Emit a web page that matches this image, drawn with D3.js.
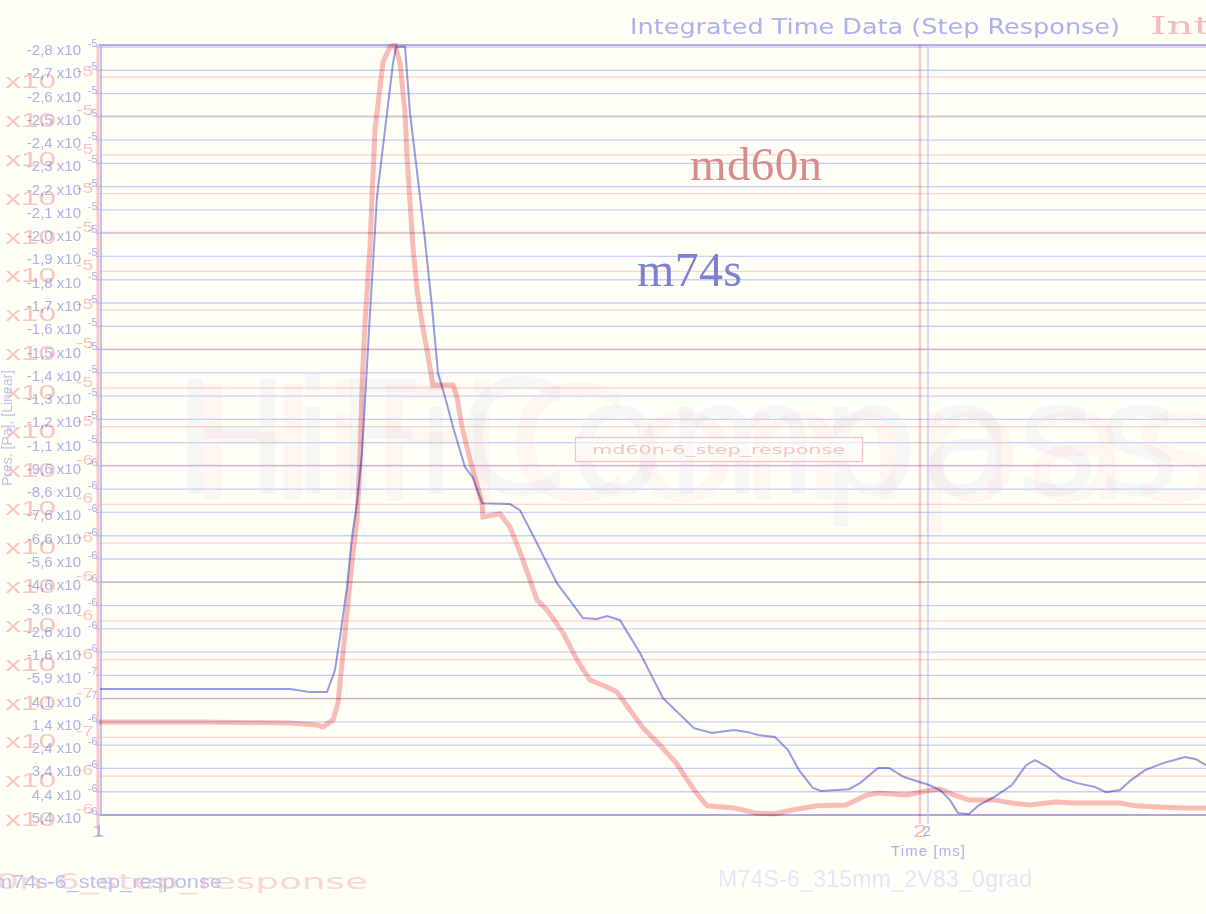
<!DOCTYPE html>
<html><head><meta charset="utf-8">
<script src="https://cdn.jsdelivr.net/npm/d3@7"></script>
<style>html,body{margin:0;padding:0;background:#fffef7;} svg{display:block}</style>
</head><body><svg id="c" width="1206" height="914"></svg>
<script>
// ---- data (pressure in micro-Pascal, time in ms) ----
const blueTime = [1.000,1.1208,1.2295,1.2536,1.2742,1.2838,1.2899,1.2983,1.3043,1.3104,
1.3164,1.3261,1.3345,1.3466,1.3539,1.3575,1.3684,1.3744,1.3841,1.3925,
1.4010,1.4082,1.4167,1.4263,1.4408,1.4505,1.4614,1.4952,1.5072,1.5278,
1.5519,1.5833,1.6002,1.6123,1.6280,1.6522,1.6800,1.7174,1.7391,1.7657,
1.7826,1.7959,1.8152,1.8309,1.8442,1.8611,1.8708,1.9046,1.9179,1.9396,
1.9529,1.9710,2.0012,2.0145,2.0266,2.0362,2.0495,2.0616,2.0797,2.1014,
2.1184,2.1292,2.1449,2.1618,2.1800,2.2017,2.2150,2.2319,2.2452,2.2621,
2.2838,2.3104,2.3237,2.3357];
const blueValue = [0,0,0,0.13,0.13,-0.82,-2.23,-4.38,-6.53,-7.99,
-10.14,-16.16,-21.14,-24.75,-26.90,-27.6,-27.6,-24.75,-21.87,-19.29,
-16.41,-13.58,-12.55,-11.26,-9.54,-9.07,-7.99,-7.95,-7.69,-6.27,
-4.55,-3.05,-3.01,-3.14,-2.96,-1.55,0.39,1.68,1.89,1.76,
1.85,1.98,2.06,2.62,3.48,4.25,4.38,4.30,4.04,3.39,
3.39,3.78,4.12,4.34,4.77,5.33,5.37,4.98,4.64,4.12,
3.27,3.05,3.35,3.82,4.04,4.21,4.43,4.34,3.91,3.48,
3.18,2.92,3.01,3.27];

const redTime = [1.0000,1.1241,1.2336,1.2664,1.2737,1.2859,1.2920,1.2981,1.3041,1.3102,
1.3151,1.3187,1.3212,1.3248,1.3309,1.3333,1.3370,1.3431,1.3467,1.3552,
1.3613,1.3674,1.3735,1.3759,1.3796,1.3832,1.3881,1.3942,1.4002,1.4075,
1.4319,1.4367,1.4428,1.4526,1.4672,1.4684,1.4891,1.5012,1.5170,1.5341,
1.5462,1.5657,1.5827,1.5985,1.6192,1.6314,1.6472,1.6630,1.6813,1.7032,
1.7251,1.7409,1.7737,1.8005,1.8224,1.8443,1.8747,1.9100,1.9355,1.9489,
1.9842,2.0061,2.0243,2.0414,2.0596,2.0900,2.1119,2.1338,2.1642,2.1861,
2.2433,2.2616,2.2920,2.3187,2.3479];
const redValue = [0,0,0.04,0.12,0.19,-0.08,-0.73,-2.67,-4.60,-6.53,
-7.80,-10.12,-12.94,-15.41,-18.35,-20.28,-22.87,-24.53,-25.50,-26.08,
-26.15,-25.46,-23.53,-21.83,-20.05,-18.35,-16.69,-15.41,-14.37,-13.02,
-13.02,-12.55,-11.40,-10.12,-8.46,-7.92,-8.04,-7.53,-6.26,-4.71,
-4.33,-3.44,-2.40,-1.62,-1.35,-1.16,-0.46,0.23,0.81,1.58,
2.63,3.24,3.32,3.52,3.55,3.40,3.24,3.21,2.82,2.74,
2.82,2.67,2.59,2.82,3.01,3.01,3.13,3.21,3.09,3.13,
3.13,3.24,3.28,3.32,3.32];

// blue axis ticks (micro-Pa) and labels
const blueTickValues = [-27.59,-26.59,-25.59,-24.59,-23.59,-22.59,-21.59,-20.59,-19.59,-18.59,
-17.59,-16.59,-15.59,-14.59,-13.59,-12.59,-11.59,-10.59,-9.59,-8.59,-7.59,-6.59,-5.59,-4.59,
-3.59,-2.59,-1.59,-0.59,0.41,1.41,2.41,3.41,4.41,5.41];
const blueTickLabels = ["-2,8","-2,7","-2,6","-2,5","-2,4","-2,3","-2,2","-2,1","-2,0","-1,9",
"-1,8","-1,7","-1,6","-1,5","-1,4","-1,3","-1,2","-1,1","-9,6","-8,6","-7,6","-6,6","-5,6","-4,6",
"-3,6","-2,6","-1,6","-5,9","4,1","1,4","2,4","3,4","4,4","5,4"];
const blueTickExp = ["-5","-5","-5","-5","-5","-5","-5","-5","-5","-5","-5","-5","-5","-5","-5","-5","-5","-5",
"-6","-6","-6","-6","-6","-6","-6","-6","-6","-7","-7","-6","-6","-6","-6","-6"];
// red axis ticks (micro-Pa) and labels
const redTickValues = [3.593,2.093,0.593,-0.907,-2.407,-3.907,-5.407,-6.907,-8.407,-9.907,
-11.407,-12.907,-14.407,-15.907,-17.407,-18.907,-20.407,-21.907,-23.407,-24.907];
const redTickLabels = ["3,6","2,1","5,9","-9,1","-2,4","-3,9","-5,4","-6,9","-8,4","-9,9",
"-1,1","-1,3","-1,4","-1,6","-1,7","-1,9","-2,0","-2,2","-2,3","-2,5"];
const redTickExp = ["-6","-6","-7","-7","-6","-6","-6","-6","-6","-6","-5","-5","-5","-5","-5","-5","-5","-5","-5","-5"];
const xTicks = [1, 2];

const svg = d3.select("#c");
const W = 1206, H = 914;
svg.append("rect").attr("width", W).attr("height", H).attr("fill", "#fffef7");

const bx = d3.scaleLinear().domain([1, 2]).range([100, 928]);
const by = d3.scaleLinear().domain([-27.59, 5.41]).range([47, 815]);
const rx = d3.scaleLinear().domain([1, 2]).range([98, 920]);
const ry = d3.scaleLinear().domain([-26.15, 3.593]).range([45, 815]);

// watermarks (very faint)
svg.append("text").attr("transform", "translate(186,500) scale(1.12,1)")
  .attr("font-family", "DejaVu Sans").attr("font-size", 158).attr("fill", "#fde6e0").attr("opacity", 0.3)
  .text("HiFiCompass");
svg.append("text").attr("x", 172).attr("y", 494)
  .attr("font-family", "DejaVu Sans").attr("font-size", 158).attr("fill", "#eef1fa").attr("opacity", 0.55)
  .style("mix-blend-mode", "multiply").text("HiFiCompass");

// grids
const gBlue = svg.append("g");
gBlue.selectAll("line").data(blueTickValues).join("line")
  .attr("x1", 100).attr("x2", W).attr("y1", d => by(d)).attr("y2", d => by(d))
  .attr("stroke", "#c9cff4").attr("stroke-width", 1.3);
const gRed = svg.append("g").style("mix-blend-mode", "multiply");
gRed.selectAll("line").data(redTickValues).join("line")
  .attr("x1", 98).attr("x2", W).attr("y1", d => ry(d)).attr("y2", d => ry(d))
  .attr("stroke", "#fbd6d6").attr("stroke-width", 1.3);
// borders
svg.append("line").attr("x1", 98).attr("x2", W).attr("y1", 45).attr("y2", 45).attr("stroke", "#b9a9df").attr("stroke-width", 2);
svg.append("line").attr("x1", 98).attr("x2", W).attr("y1", 815).attr("y2", 815).attr("stroke", "#b3a3dc").attr("stroke-width", 2);

// vertical grid at x ticks
svg.append("g").style("mix-blend-mode", "multiply").selectAll("line").data(xTicks.slice(1)).join("line")
  .attr("x1", d => rx(d)).attr("x2", d => rx(d)).attr("y1", 45).attr("y2", 824)
  .attr("stroke", "#f8cccc").attr("stroke-width", 2.5);
svg.append("g").selectAll("line").data(xTicks.slice(1)).join("line")
  .attr("x1", d => bx(d)).attr("x2", d => bx(d)).attr("y1", 45).attr("y2", 824)
  .attr("stroke", "#bcc2f1").attr("stroke-width", 1.2);

// left axes
svg.append("line").attr("x1", 98).attr("x2", 98).attr("y1", 45).attr("y2", 826).attr("stroke", "#f8c6c6").attr("stroke-width", 3);
svg.append("line").attr("x1", 101).attr("x2", 101).attr("y1", 45).attr("y2", 815).attr("stroke", "#a9aeee").attr("stroke-width", 1.5);
svg.append("g").selectAll("line").data(blueTickValues).join("line")
  .attr("x1", 96).attr("x2", 101).attr("y1", d => by(d)).attr("y2", d => by(d)).attr("stroke", "#b3b9ee");

// legend box (red chart)
svg.append("rect").attr("x", 575.5).attr("y", 437.5).attr("width", 287).attr("height", 24)
  .attr("fill", "#fffef9").attr("fill-opacity", 0.5).attr("stroke", "#f5c3c3").attr("stroke-width", 1.3);
svg.append("text").attr("x", 592).attr("y", 454).attr("font-family", "DejaVu Sans").attr("font-size", 13)
  .attr("textLength", 253).attr("lengthAdjust", "spacingAndGlyphs").attr("fill", "#f4c4c4").text("md60n-6_step_response");

// curves
svg.append("clipPath").attr("id", "clip").append("rect").attr("x", 99).attr("y", 43).attr("width", W - 99).attr("height", 774);
const redData = redTime.map((t, i) => [t, redValue[i]]);
const blueData = blueTime.map((t, i) => [t, blueValue[i]]);
svg.append("path").datum(redData).attr("clip-path", "url(#clip)")
  .attr("d", d3.line().x(d => rx(d[0])).y(d => ry(d[1])))
  .attr("fill", "none").attr("stroke", "#f7abab").attr("stroke-opacity", 0.8).attr("stroke-width", 5)
  .style("mix-blend-mode", "multiply");
svg.append("path").datum(blueData).attr("clip-path", "url(#clip)")
  .attr("d", d3.line().x(d => bx(d[0])).y(d => by(d[1])))
  .attr("fill", "none").attr("stroke", "#959de9").attr("stroke-width", 2)
  .style("mix-blend-mode", "multiply");

// blue y labels
const bl = svg.append("g").attr("font-family", "Liberation Sans").attr("fill", "#aab1ea");
bl.selectAll("text.m").data(blueTickValues).join("text").attr("class", "m")
  .attr("x", 81).attr("y", d => by(d) + 8).attr("text-anchor", "end").attr("font-size", 15)
  .text((d, i) => blueTickLabels[i] + " x10");
bl.selectAll("text.e").data(blueTickValues).join("text").attr("class", "e")
  .attr("x", 88).attr("y", d => by(d) + 0).attr("font-size", 10.5)
  .text((d, i) => blueTickExp[i]);
// red y labels (stretched, numbers fall outside the picture)
const rl = svg.append("g").attr("font-family", "Liberation Sans").attr("fill", "#f7bcbc").attr("opacity", 0.85)
  .style("mix-blend-mode", "multiply");
rl.selectAll("text.m").data(redTickValues).join("text").attr("class", "m")
  .attr("transform", d => `translate(56,${ry(d) + 11}) scale(1.5,1)`).attr("text-anchor", "end").attr("font-size", 21)
  .text((d, i) => redTickLabels[i] + " x10");
rl.selectAll("text.e").data(redTickValues).join("text").attr("class", "e")
  .attr("transform", d => `translate(76,${ry(d) - 1}) scale(1.3,1)`).attr("font-size", 15)
  .text((d, i) => redTickExp[i]);

// x tick labels
svg.append("g").selectAll("text").data(xTicks).join("text")
  .attr("transform", d => `translate(${rx(d)},${837}) scale(1.5,1)`).attr("text-anchor", "middle")
  .attr("font-family", "Liberation Sans").attr("font-size", 16).attr("fill", "#f6b6b6").text(d => d);
svg.append("g").selectAll("text").data(xTicks).join("text")
  .attr("x", d => bx(d) - 1).attr("y", 836).attr("text-anchor", "middle")
  .attr("font-family", "Liberation Sans").attr("font-size", 14).attr("fill", "#9ea6e6").text(d => d);

// titles
svg.append("text").attr("x", 630).attr("y", 34).attr("font-family", "DejaVu Sans").attr("font-size", 22)
  .attr("textLength", 490).attr("lengthAdjust", "spacingAndGlyphs").attr("fill", "#a9b1ee")
  .text("Integrated Time Data (Step Response)");
svg.append("text").attr("transform", "translate(1150,34) scale(1.75,1)").attr("font-family", "DejaVu Serif")
  .attr("font-size", 24).attr("fill", "#f7baba").text("Integrated Time Data (Step Response)");

// axis titles
svg.append("text").attr("x", 928).attr("y", 856).attr("text-anchor", "middle").attr("font-family", "Liberation Sans")
  .attr("font-size", 15).attr("textLength", 74).attr("fill", "#aab1ea").text("Time [ms]");
svg.append("text").attr("transform", "translate(12,428) rotate(-90)").attr("text-anchor", "middle")
  .attr("font-family", "Liberation Sans").attr("font-size", 14).attr("fill", "#bcc3f0").text("Pres. [Pa], [Linear]");

// series annotations
svg.append("text").attr("x", 690).attr("y", 180).attr("font-family", "Liberation Serif").attr("font-size", 47)
  .attr("textLength", 132).attr("fill", "#d98b8b").text("md60n");
svg.append("text").attr("x", 637).attr("y", 286).attr("font-family", "Liberation Serif").attr("font-size", 48)
  .attr("textLength", 105).attr("fill", "#7b81d0").text("m74s");

// bottom captions
svg.append("text").attr("transform", "translate(368,889) scale(1.7,1)").attr("text-anchor", "end")
  .attr("font-family", "DejaVu Sans").attr("font-size", 22).attr("fill", "#fad6d6").text("md60n-6_step_response");
svg.append("text").attr("x", -6).attr("y", 888).attr("font-family", "Liberation Sans").attr("font-size", 19)
  .attr("textLength", 228).attr("lengthAdjust", "spacingAndGlyphs").attr("fill", "#b3b9ea").attr("opacity", 0.9)
  .text("m74s-6_step_response");
svg.append("text").attr("x", 875).attr("y", 887).attr("text-anchor", "middle").attr("font-family", "Liberation Sans")
  .attr("font-size", 23).attr("textLength", 314).attr("fill", "#e2e6f8").text("M74S-6_315mm_2V83_0grad");
</script></body></html>
